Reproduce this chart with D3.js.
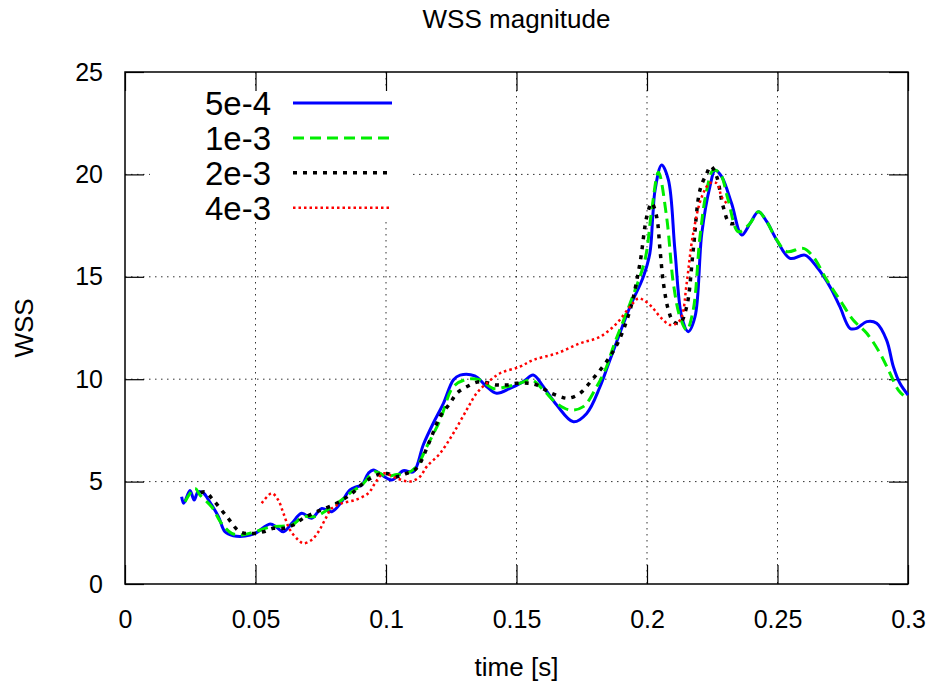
<!DOCTYPE html>
<html>
<head>
<meta charset="utf-8">
<script src="https://cdn.jsdelivr.net/npm/d3@7"></script>
<style>
  body { margin: 0; background: #fff; }
  svg { font-family: "Liberation Sans", Arial, sans-serif; }
</style>
</head>
<body>
<svg id="chart" width="931" height="689"></svg>
<script>
// data: [time, WSS]
const seriesNames = ["5e-4", "1e-3", "2e-3", "4e-3"];

const wss5e4 = [
  [0.0217,4.26],[0.0225,3.94],[0.0249,4.56],[0.0265,4.1],[0.028,4.5],[0.030,4.45],[0.032,4.1],
  [0.0358,3.29],[0.0383,2.55],[0.0415,2.36],[0.046,2.34],[0.0498,2.47],[0.0556,2.93],[0.0581,2.77],
  [0.0607,2.55],[0.0639,2.96],[0.0677,3.45],[0.0715,3.21],[0.0754,3.69],[0.0792,3.53],[0.083,4.02],
  [0.0862,4.59],[0.0888,4.75],[0.0907,4.83],[0.0932,5.4],[0.0951,5.57],[0.1022,5.08],[0.1066,5.53],
  [0.1105,5.48],[0.1143,6.8],[0.1181,7.85],[0.122,8.82],[0.1258,9.96],[0.1284,10.2],[0.134,10.16],
  [0.1386,9.63],[0.1424,9.31],[0.1475,9.55],[0.1526,9.88],[0.1564,10.2],[0.1603,9.63],[0.1654,8.74],
  [0.1718,7.92],[0.1769,8.33],[0.182,9.63],[0.1858,10.94],[0.1935,13.54],[0.1986,15.0],[0.2011,16.15],
  [0.2022,17.93],[0.2031,19.24],[0.2056,20.46],[0.2082,19.73],[0.2107,16.3],[0.2133,13.05],[0.2158,12.32],
  [0.2184,13.05],[0.221,17.12],[0.2241,19.4],[0.2261,20.2],[0.2286,19.89],[0.2324,18.59],[0.2363,17.04],
  [0.2395,17.61],[0.2427,18.18],[0.2459,17.69],[0.2497,16.8],[0.2548,15.9],[0.2605,16.06],[0.265,15.49],
  [0.2701,14.52],[0.2739,13.54],[0.2778,12.48],[0.2803,12.48],[0.2842,12.81],[0.288,12.73],[0.2918,11.91],
  [0.2944,10.61],[0.2969,9.8],[0.3,9.23]
];

const wss1e3 = [
  [0.023,4.02],[0.0268,4.67],[0.0287,4.35],[0.0332,3.77],[0.037,2.96],[0.0409,2.47],[0.0447,2.39],
  [0.0498,2.55],[0.0562,2.8],[0.0639,2.88],[0.0683,3.29],[0.0728,3.29],[0.0779,3.65],[0.083,4.1],
  [0.0868,4.5],[0.0907,4.83],[0.0958,5.48],[0.1002,5.25],[0.1041,5.35],[0.1079,5.4],[0.1117,5.73],
  [0.1156,6.7],[0.1207,8.0],[0.1258,9.63],[0.1309,9.99],[0.136,9.96],[0.1411,9.55],[0.1462,9.63],
  [0.1513,9.8],[0.1558,9.96],[0.1603,9.47],[0.1654,8.82],[0.1705,8.5],[0.1756,8.66],[0.1807,9.63],
  [0.1845,10.61],[0.1871,11.59],[0.1935,13.7],[0.1992,15.82],[0.2018,18.26],[0.2044,20.1],[0.2075,17.93],
  [0.2101,14.68],[0.2126,13.05],[0.2152,12.4],[0.2177,13.38],[0.2203,16.96],[0.2229,19.24],[0.2254,20.2],
  [0.228,20.05],[0.2311,18.75],[0.235,17.2],[0.2395,17.61],[0.2427,18.18],[0.2459,17.69],[0.2497,16.8],
  [0.2535,16.23],[0.2599,16.39],[0.2637,15.98],[0.2689,14.84],[0.2739,13.87],[0.279,12.89],[0.2842,12.24],
  [0.2893,11.26],[0.2931,10.29],[0.2963,9.47],[0.2995,9.07]
];

const wss2e3 = [
  [0.029,4.45],[0.0307,4.5],[0.0338,4.1],[0.039,3.29],[0.0441,2.55],[0.0492,2.47],[0.053,2.55],
  [0.0568,2.72],[0.0607,2.72],[0.0645,2.88],[0.0683,3.21],[0.0734,3.53],[0.0798,3.86],[0.0862,4.35],
  [0.0913,4.92],[0.0964,5.32],[0.1002,5.4],[0.1041,5.24],[0.1079,5.4],[0.1117,5.65],[0.1169,7.03],
  [0.1207,8.17],[0.1245,8.82],[0.1271,9.31],[0.1309,9.63],[0.136,9.88],[0.1424,9.72],[0.1462,9.72],
  [0.1501,9.8],[0.1545,9.8],[0.1577,9.72],[0.1622,9.39],[0.1667,9.15],[0.1699,9.07],[0.1743,9.31],
  [0.1794,10.04],[0.1845,10.86],[0.189,11.83],[0.1935,13.38],[0.1973,15.66],[0.1999,17.93],[0.2018,18.6],
  [0.2037,17.93],[0.205,16.3],[0.2063,14.68],[0.2082,13.38],[0.2101,12.81],[0.2126,12.73],[0.2152,13.54],
  [0.2177,16.3],[0.2203,19.24],[0.2229,20.05],[0.2244,20.4],[0.2267,19.89],[0.2292,18.42],[0.2318,17.61],
  [0.2356,17.69]
];

const wss4e3 = [
  [0.0524,3.94],[0.0562,4.43],[0.0587,4.1],[0.0607,3.45],[0.0632,2.64],[0.0664,2.15],[0.0683,1.99],
  [0.0715,2.15],[0.0741,2.55],[0.0766,3.13],[0.0792,3.69],[0.083,3.94],[0.0881,4.1],[0.0932,4.43],
  [0.0958,4.92],[0.099,5.4],[0.1041,5.16],[0.1092,5.0],[0.113,5.24],[0.1156,5.73],[0.1207,6.38],
  [0.1258,7.36],[0.1309,8.5],[0.1347,9.31],[0.1386,9.8],[0.1437,10.29],[0.1513,10.61],[0.1564,10.94],
  [0.1654,11.26],[0.1743,11.75],[0.182,12.07],[0.1884,12.73],[0.1935,13.54],[0.1967,13.95],[0.1986,13.87],
  [0.2018,13.54],[0.205,13.05],[0.2088,12.65],[0.2114,12.73],[0.2133,13.05],[0.2152,14.68],[0.2177,17.12],
  [0.221,18.91],[0.2241,19.57],[0.2267,19.57],[0.2286,18.91],[0.2305,18.59]
];

const xTicks = [0, 0.05, 0.1, 0.15, 0.2, 0.25, 0.3];
const xTickLabels = ["0", "0.05", "0.1", "0.15", "0.2", "0.25", "0.3"];
const yTicks = [0, 5, 10, 15, 20, 25];
const yTickLabels = ["0", "5", "10", "15", "20", "25"];

const allSeries = [wss5e4, wss1e3, wss2e3, wss4e3];

// gnuplot-ish line styles
const styles = [
  { color: "#0000ff", width: 3, dash: null },
  { color: "#00ee00", width: 3, dash: "11,6" },
  { color: "#000000", width: 3.5, dash: "4,6" },
  { color: "#ff0000", width: 2.5, dash: "2.5,3" }
];

const svg = d3.select("#chart");
const plotLeft = 125, plotRight = 908, plotTop = 72, plotBottom = 584;
const tickFont = 25, labelFont = 26;

const x = d3.scaleLinear().domain([0, 0.3]).range([plotLeft, plotRight]);
const y = d3.scaleLinear().domain([0, 25]).range([plotBottom, plotTop]);

// grid
const grid = svg.append("g")
    .attr("stroke", "#333")
    .attr("stroke-width", 1)
    .attr("stroke-dasharray", "1.5,4.5");
grid.selectAll(".gx")
    .data(xTicks.slice(1, -1))
    .enter().append("line")
    .attr("x1", d => x(d)).attr("x2", d => x(d))
    .attr("y1", plotTop).attr("y2", plotBottom);
grid.selectAll(".gy")
    .data(yTicks.slice(1, -1))
    .enter().append("line")
    .attr("x1", plotLeft).attr("x2", plotRight)
    .attr("y1", d => y(d)).attr("y2", d => y(d));

// key box hides the grid behind the legend
svg.append("rect")
    .attr("x", 150).attr("y", 90)
    .attr("width", 260).attr("height", 132)
    .attr("fill", "#fff");

// axes with inward ticks on all four sides
const fmtX = d => xTickLabels[xTicks.indexOf(d)];
const fmtY = d => yTickLabels[yTicks.indexOf(d)];

const axisStyle = g => {
  g.select(".domain").remove();
  g.selectAll("line").attr("stroke", "#000").attr("stroke-width", 1.2);
  g.selectAll("text").attr("font-size", tickFont).attr("fill", "#000")
      .attr("font-family", "'Liberation Sans', Arial, sans-serif");
};

svg.append("g")
    .attr("transform", `translate(0,${plotBottom})`)
    .call(d3.axisBottom(x).tickValues(xTicks).tickFormat(fmtX).tickSizeInner(-19).tickSizeOuter(0).tickPadding(26))
    .call(axisStyle);
svg.append("g")
    .attr("transform", `translate(0,${plotTop})`)
    .call(d3.axisTop(x).tickValues(xTicks).tickFormat("").tickSizeInner(-19).tickSizeOuter(0))
    .call(axisStyle);
svg.append("g")
    .attr("transform", `translate(${plotLeft},0)`)
    .call(d3.axisLeft(y).tickValues(yTicks).tickFormat(fmtY).tickSizeInner(-19).tickSizeOuter(0).tickPadding(22))
    .call(axisStyle);
svg.append("g")
    .attr("transform", `translate(${plotRight},0)`)
    .call(d3.axisRight(y).tickValues(yTicks).tickFormat("").tickSizeInner(-19).tickSizeOuter(0))
    .call(axisStyle);

// border
svg.append("rect")
    .attr("x", plotLeft).attr("y", plotTop)
    .attr("width", plotRight - plotLeft).attr("height", plotBottom - plotTop)
    .attr("fill", "none").attr("stroke", "#000").attr("stroke-width", 1.5);

// curves
const line = d3.line()
    .x(d => x(d[0]))
    .y(d => y(d[1]))
    .curve(d3.curveCatmullRom.alpha(0.5));

svg.append("g").selectAll("path")
    .data(allSeries)
    .enter().append("path")
    .attr("d", line)
    .attr("fill", "none")
    .attr("stroke", (d, i) => styles[i].color)
    .attr("stroke-width", (d, i) => styles[i].width)
    .attr("stroke-dasharray", (d, i) => styles[i].dash)
    .attr("stroke-linejoin", "round");

// legend
const legend = svg.append("g");
const rowY = i => 103 + i * 34.9;
legend.selectAll("text")
    .data(seriesNames)
    .enter().append("text")
    .attr("x", 271)
    .attr("y", (d, i) => rowY(i) + 12)
    .attr("text-anchor", "end")
    .attr("font-size", 33)
    .text(d => d);
legend.selectAll("line")
    .data(seriesNames)
    .enter().append("line")
    .attr("x1", 293).attr("x2", 392)
    .attr("y1", (d, i) => rowY(i)).attr("y2", (d, i) => rowY(i))
    .attr("stroke", (d, i) => styles[i].color)
    .attr("stroke-width", (d, i) => styles[i].width)
    .attr("stroke-dasharray", (d, i) => styles[i].dash);

// titles
svg.append("text")
    .attr("x", (plotLeft + plotRight) / 2).attr("y", 28)
    .attr("text-anchor", "middle")
    .attr("font-size", labelFont)
    .text("WSS magnitude");
svg.append("text")
    .attr("x", (plotLeft + plotRight) / 2).attr("y", 676)
    .attr("text-anchor", "middle")
    .attr("font-size", labelFont)
    .text("time [s]");
svg.append("text")
    .attr("transform", `translate(33,328) rotate(-90)`)
    .attr("text-anchor", "middle")
    .attr("font-size", labelFont)
    .text("WSS");
</script>
</body>
</html>
